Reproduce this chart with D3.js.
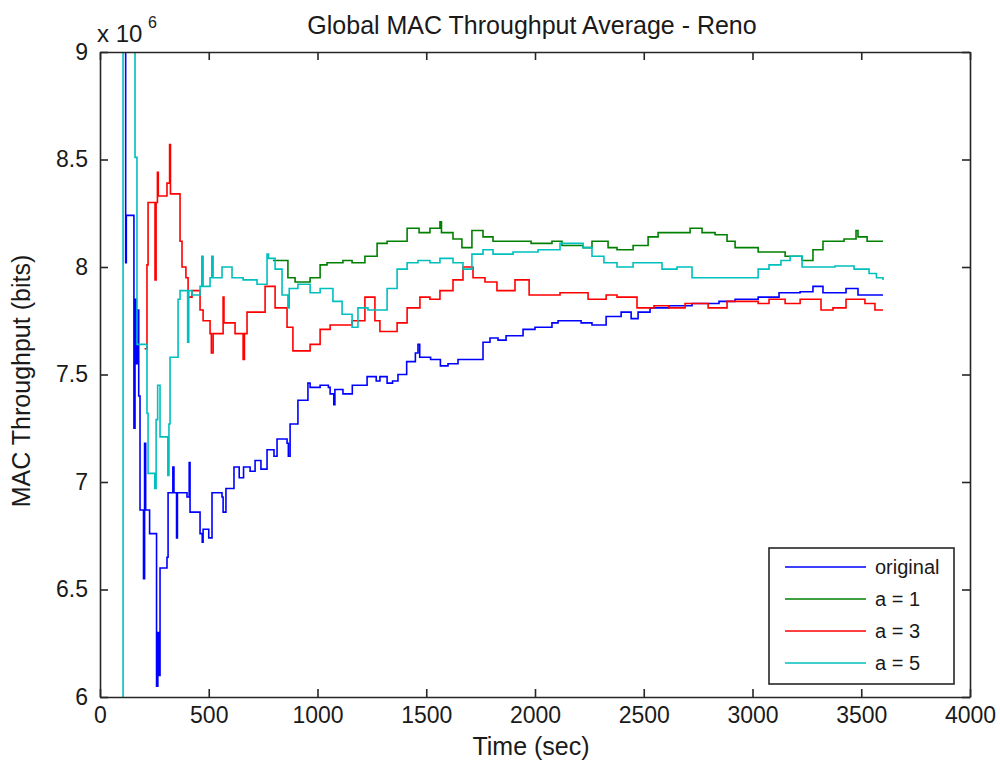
<!DOCTYPE html>
<html>
<head>
<meta charset="utf-8">
<script src="https://cdn.jsdelivr.net/npm/d3@7"></script>
<style>
  body { margin: 0; background: #fff; }
  svg text { font-family: "Liberation Sans", Arial, sans-serif; fill: #1a1a1a; }
</style>
</head>
<body>
<svg width="1000" height="765"></svg>
<script>
// values are in units of 1e6 bits, time in seconds
var xTicks = [0, 500, 1000, 1500, 2000, 2500, 3000, 3500, 4000];
var yTicks = [6, 6.5, 7, 7.5, 8, 8.5, 9];
var seriesNames = ["original", "a = 1", "a = 3", "a = 5"];
var seriesColors = ["#0000ff", "#008000", "#ff0000", "#00bfbf"];

var original = [
  [100, 9.7], [118, 8.02], [121, 8.24], [156, 7.25], [161, 7.85], [166, 7.55], [172, 7.8], [178, 7.4],
  [184, 6.87], [200, 6.55], [205, 7.18], [210, 6.87], [228, 6.76], [260, 6.05], [266, 6.3], [270, 6.1],
  [276, 6.6], [308, 6.65], [313, 6.95], [335, 7.07], [340, 6.95], [352, 6.74], [356, 6.95], [400, 6.93],
  [410, 7.09], [414, 6.86], [460, 6.76], [470, 6.72], [474, 6.78], [500, 6.74], [515, 6.95], [561, 6.93],
  [566, 6.86], [579, 6.97], [616, 7.07], [640, 7.02], [660, 7.07], [690, 7.05], [713, 7.1], [740, 7.06],
  [768, 7.15], [800, 7.12], [814, 7.2], [860, 7.18], [866, 7.12], [874, 7.27], [910, 7.38], [956, 7.46],
  [966, 7.44], [1012, 7.45], [1050, 7.44], [1058, 7.41], [1075, 7.36], [1080, 7.43], [1117, 7.41],
  [1160, 7.45], [1210, 7.45], [1228, 7.49], [1270, 7.47], [1287, 7.49], [1320, 7.46], [1345, 7.47],
  [1370, 7.5], [1410, 7.56], [1450, 7.6], [1462, 7.64], [1470, 7.58], [1520, 7.57], [1565, 7.54],
  [1600, 7.55], [1646, 7.57], [1700, 7.57], [1761, 7.65], [1793, 7.67], [1830, 7.66], [1867, 7.68],
  [1945, 7.71], [2000, 7.72], [2078, 7.74], [2106, 7.75], [2212, 7.74], [2262, 7.73], [2327, 7.77],
  [2396, 7.79], [2442, 7.76], [2474, 7.79], [2529, 7.81], [2616, 7.82], [2722, 7.83], [2846, 7.84],
  [2920, 7.85], [3026, 7.86], [3122, 7.88], [3219, 7.885], [3278, 7.91], [3324, 7.88], [3430, 7.9],
  [3485, 7.87], [3600, 7.87]
];

var a1 = [
  [795, 8.03], [864, 7.95], [897, 7.93], [966, 7.95], [1012, 8.01], [1044, 8.02], [1117, 8.03],
  [1159, 8.02], [1218, 8.05], [1274, 8.11], [1320, 8.12], [1412, 8.18], [1467, 8.16], [1517, 8.18],
  [1563, 8.21], [1570, 8.16], [1623, 8.13], [1664, 8.09], [1710, 8.17], [1761, 8.14], [1807, 8.12],
  [1982, 8.11], [2078, 8.12], [2124, 8.1], [2221, 8.09], [2262, 8.12], [2336, 8.09], [2377, 8.08],
  [2451, 8.1], [2520, 8.14], [2566, 8.16], [2713, 8.18], [2768, 8.16], [2828, 8.15], [2883, 8.12],
  [2920, 8.09], [3026, 8.07], [3150, 8.05], [3228, 8.03], [3278, 8.08], [3324, 8.12], [3421, 8.13],
  [3476, 8.17], [3485, 8.14], [3527, 8.12], [3600, 8.12]
];

var a3 = [
  [205, 7.62], [216, 8.01], [221, 8.3], [253, 7.94], [258, 8.3], [264, 8.44], [268, 8.33], [308, 8.39],
  [320, 8.57], [324, 8.34], [368, 8.12], [377, 8.0], [395, 7.95], [405, 7.86], [423, 7.89], [460, 7.8],
  [474, 7.75], [506, 7.69], [512, 7.6], [520, 7.69], [566, 7.86], [570, 7.74], [621, 7.69], [658, 7.57],
  [664, 7.69], [676, 7.79], [759, 7.91], [805, 7.81], [860, 7.72], [887, 7.61], [966, 7.64], [1012, 7.71],
  [1058, 7.73], [1159, 7.75], [1218, 7.86], [1264, 7.75], [1287, 7.7], [1366, 7.74], [1412, 7.81],
  [1471, 7.86], [1517, 7.85], [1563, 7.89], [1623, 7.94], [1669, 8.0], [1715, 7.95], [1770, 7.93],
  [1825, 7.89], [1908, 7.94], [1973, 7.87], [2115, 7.88], [2244, 7.85], [2327, 7.87], [2377, 7.86],
  [2469, 7.81], [2547, 7.82], [2616, 7.81], [2690, 7.83], [2796, 7.81], [2883, 7.84], [3026, 7.83],
  [3076, 7.85], [3150, 7.83], [3219, 7.85], [3315, 7.8], [3370, 7.81], [3430, 7.85], [3517, 7.83],
  [3563, 7.8], [3600, 7.8]
];

var a5 = [
  [100, 5.5], [106, 9.8], [161, 8.51], [170, 7.64], [216, 7.32], [221, 7.04], [252, 6.97], [258, 7.29],
  [265, 7.45], [276, 7.21], [312, 7.03], [317, 7.27], [322, 7.58], [359, 7.85], [368, 7.89], [403, 7.65],
  [408, 7.89], [423, 7.87], [460, 7.91], [468, 8.05], [474, 7.91], [506, 7.95], [514, 8.05], [520, 7.95],
  [561, 8.0], [607, 7.95], [658, 7.94], [722, 7.92], [768, 8.06], [775, 8.04], [805, 7.99], [837, 7.87],
  [864, 7.81], [870, 7.9], [910, 7.92], [966, 7.88], [1012, 7.9], [1071, 7.84], [1113, 7.78], [1159, 7.72],
  [1186, 7.81], [1232, 7.8], [1320, 7.9], [1366, 7.99], [1412, 8.02], [1462, 8.03], [1517, 8.02],
  [1563, 8.04], [1623, 8.02], [1669, 7.99], [1710, 8.06], [1761, 8.08], [1807, 8.06], [1899, 8.07],
  [2014, 8.08], [2115, 8.11], [2221, 8.09], [2262, 8.05], [2317, 8.02], [2377, 8.0], [2451, 8.02],
  [2584, 7.99], [2653, 8.0], [2722, 7.95], [3026, 7.99], [3076, 8.01], [3131, 8.03], [3173, 8.05],
  [3228, 8.0], [3379, 8.005], [3467, 7.99], [3536, 7.97], [3570, 7.95], [3600, 7.94]
];

var allSeries = [original, a1, a3, a5];

var svg = d3.select("svg");
var marginLeft = 100, marginTop = 52, width = 870, height = 645;

var x = d3.scaleLinear().domain([0, 4000]).range([0, width]);
var y = d3.scaleLinear().domain([6, 9]).range([height, 0]);

var g = svg.append("g").attr("transform", "translate(" + marginLeft + "," + marginTop + ")");

g.append("clipPath").attr("id", "plotclip")
  .append("rect").attr("width", width).attr("height", height);

var line = d3.line()
  .x(function(d) { return x(d[0]); })
  .y(function(d) { return y(d[1]); })
  .curve(d3.curveStepAfter);

allSeries.forEach(function(s, i) {
  g.append("path")
    .datum(s)
    .attr("clip-path", "url(#plotclip)")
    .attr("d", line)
    .style("fill", "none")
    .style("stroke", seriesColors[i])
    .style("stroke-width", 1.6);
});

// axes, ticks pointing inward on all four sides
var bottomAxis = g.append("g")
  .attr("transform", "translate(0," + height + ")")
  .call(d3.axisBottom(x).tickValues(xTicks).tickFormat(d3.format("d"))
    .tickSizeInner(-8).tickSizeOuter(0).tickPadding(10));
var leftAxis = g.append("g")
  .call(d3.axisLeft(y).tickValues(yTicks).tickFormat(d3.format(""))
    .tickSizeInner(-8).tickSizeOuter(0).tickPadding(12));
var topAxis = g.append("g")
  .call(d3.axisTop(x).tickValues(xTicks).tickSizeInner(-8).tickSizeOuter(0).tickFormat(""));
var rightAxis = g.append("g")
  .attr("transform", "translate(" + width + ",0)")
  .call(d3.axisRight(y).tickValues(yTicks).tickSizeInner(-8).tickSizeOuter(0).tickFormat(""));

[bottomAxis, leftAxis, topAxis, rightAxis].forEach(function(a) {
  a.select(".domain").attr("stroke", "#262626").attr("stroke-width", 1.6);
  a.selectAll(".tick line").attr("stroke", "#262626").attr("stroke-width", 1.6);
  a.selectAll("text").attr("font-size", "23px").attr("fill", "#1a1a1a")
    .attr("font-family", "'Liberation Sans', Arial, sans-serif");
});

// exponent label
svg.append("text")
  .attr("x", 97).attr("y", 42)
  .attr("font-size", "24px")
  .text("x 10");
svg.append("text")
  .attr("x", 148).attr("y", 28)
  .attr("font-size", "16px")
  .text("6");

svg.append("text")
  .attr("x", 532)
  .attr("y", 34)
  .attr("text-anchor", "middle")
  .attr("font-size", "25px")
  .text("Global MAC Throughput Average - Reno");

svg.append("text")
  .attr("x", 531)
  .attr("y", 755)
  .attr("text-anchor", "middle")
  .attr("font-size", "25px")
  .text("Time (sec)");

svg.append("text")
  .attr("transform", "translate(30,381) rotate(-90)")
  .attr("text-anchor", "middle")
  .attr("font-size", "25px")
  .text("MAC Throughput (bits)");

// legend
var legend = svg.append("g").attr("transform", "translate(769,548)");
legend.append("rect")
  .attr("width", 185).attr("height", 136)
  .attr("fill", "#fff")
  .attr("stroke", "#262626")
  .attr("stroke-width", 1.6);

seriesNames.forEach(function(name, i) {
  var ly = 19 + i * 32;
  legend.append("line")
    .attr("x1", 16).attr("x2", 97)
    .attr("y1", ly).attr("y2", ly)
    .attr("stroke", seriesColors[i])
    .attr("stroke-width", 1.6);
  legend.append("text")
    .attr("x", 106).attr("y", ly + 7)
    .attr("font-size", "20px")
    .text(name);
});
</script>
</body>
</html>
